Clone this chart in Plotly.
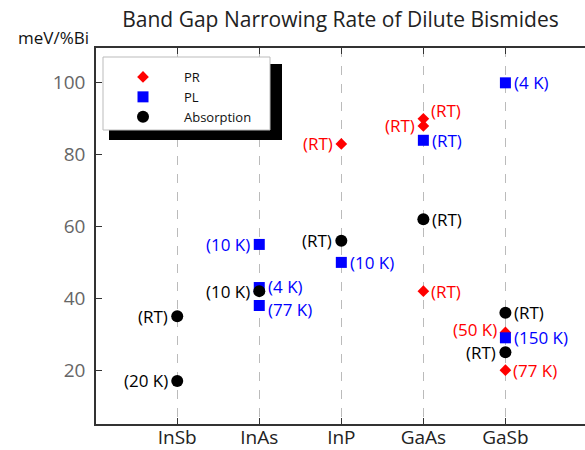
import plotly.graph_objects as go

categories = ["InSb", "InAs", "InP", "GaAs", "GaSb"]

pr_x = ["InP", "GaAs", "GaAs", "GaAs", "GaSb", "GaSb"]
pr_y = [83, 90, 88, 42, 30.5, 20]
pr_lbl = ["(RT)", "(RT)", "(RT)", "(RT)", "(50 K)", "(77 K)"]

pl_x = ["InAs", "InAs", "InAs", "InP", "GaAs", "GaSb", "GaSb"]
pl_y = [55, 43, 38, 50, 84, 100, 29]
pl_lbl = ["(10 K)", "(4 K)", "(77 K)", "(10 K)", "(RT)", "(4 K)", "(150 K)"]

ab_x = ["InSb", "InSb", "InAs", "InP", "GaAs", "GaSb", "GaSb"]
ab_y = [35, 17, 42, 56, 62, 36, 25]
ab_lbl = ["(RT)", "(20 K)", "(10 K)", "(RT)", "(RT)", "(RT)", "(RT)"]

yticks = [20, 40, 60, 80, 100]

# label placement (style): side (+1 right / -1 left) and vertical pixel nudge
pr_side = [-1, 1, -1, 1, -1, 1]
pr_dy = [0, 8, 0, 0, 3, 0]
pl_side = [-1, 1, 1, 1, 1, 1, 1]
pl_dy = [0, 1, -4, 0, 0, 0, 0]
ab_side = [-1, -1, -1, -1, 1, 1, -1]
ab_dy = [0, 0, 0, 0, 0, 0, 0]

FONT = "Open Sans"
W, H = 585, 450
L, R, T, B = 96, 0, 48, 26
PW, PH = W - L - R, H - T - B

def px(x):
    return (x - L) / PW

def py(y):
    return (H - B - y) / PH

fig = go.Figure()
series = [
    ("PR", pr_x, pr_y, pr_lbl, pr_side, pr_dy, "#ff0000", "diamond", 9, 6),
    ("PL", pl_x, pl_y, pl_lbl, pl_side, pl_dy, "#0000ff", "square", 11, 7),
    ("Absorption", ab_x, ab_y, ab_lbl, ab_side, ab_dy, "#000000", "circle", 12, 7),
]
for name, xs, ys, lbl, side, dy, col, sym, sz, gap in series:
    fig.add_trace(go.Scatter(
        x=xs, y=ys, name=name, mode="markers",
        marker=dict(symbol=sym, size=sz, color=col, line=dict(width=0)),
        cliponaxis=False,
    ))
    for xv, yv, t, s, d in zip(xs, ys, lbl, side, dy):
        fig.add_annotation(x=xv, y=yv, text=t, showarrow=False,
                           xanchor="left" if s > 0 else "right", yanchor="middle",
                           xshift=s * gap, yshift=d,
                           font=dict(family=FONT, size=17, color=col))

# legend box with shadow
fig.add_shape(type="rect", xref="paper", yref="paper",
              x0=px(109), x1=px(282), y0=py(140), y1=py(64),
              fillcolor="black", line=dict(width=0), layer="above")
fig.add_shape(type="rect", xref="paper", yref="paper",
              x0=px(103), x1=px(270), y0=py(130), y1=py(57),
              fillcolor="white", line=dict(color="#bbbbbb", width=1), layer="above")

fig.add_annotation(text="meV/%Bi", xref="paper", yref="paper",
                   x=px(91), y=py(38), xanchor="right", yanchor="middle",
                   showarrow=False, font=dict(family=FONT, size=17, color="#111"))

fig.update_layout(
    width=W, height=H,
    margin=dict(l=L, r=R, t=T, b=B, autoexpand=False),
    paper_bgcolor="white", plot_bgcolor="white",
    title=dict(text="Band Gap Narrowing Rate of Dilute Bismides",
               x=(L + PW / 2) / W, xanchor="center", y=1 - 20 / H, yanchor="middle",
               font=dict(family=FONT, size=21, color="#222")),
    font=dict(family=FONT),
    legend=dict(x=px(102), y=py(62), xanchor="left", yanchor="top",
                bgcolor="rgba(0,0,0,0)", borderwidth=0,
                font=dict(family=FONT, size=13, color="#111"),
                itemwidth=72, tracegroupgap=0),
    xaxis=dict(type="category", categoryorder="array", categoryarray=categories,
               range=[-0.99, 4.97], showline=True, linecolor="#333", linewidth=1.5,
               mirror="ticks", ticks="inside", ticklen=6, tickcolor="#333",
               showgrid=True, gridcolor="#bbbbbb", griddash="dash", gridwidth=1,
               automargin=False, ticklabelstandoff=-5,
               tickfont=dict(family=FONT, size=19, color="#222"), zeroline=False),
    yaxis=dict(range=[5, 109.7], tickvals=yticks, showline=True, linecolor="#333",
               linewidth=1.5, ticks="inside", ticklen=6, tickcolor="#333",
               showgrid=False, zeroline=False, ticklabelstandoff=5, automargin=False,
               tickfont=dict(family=FONT, size=19, color="#666")),
    yaxis2=dict(overlaying="y", side="right", matches="y", range=[5, 109.7],
                tickvals=yticks, showline=False, ticks="inside", ticklen=7,
                automargin=False,
                tickcolor="#333", showticklabels=False, showgrid=False, zeroline=False),
)

fig.write_html("out.html")
